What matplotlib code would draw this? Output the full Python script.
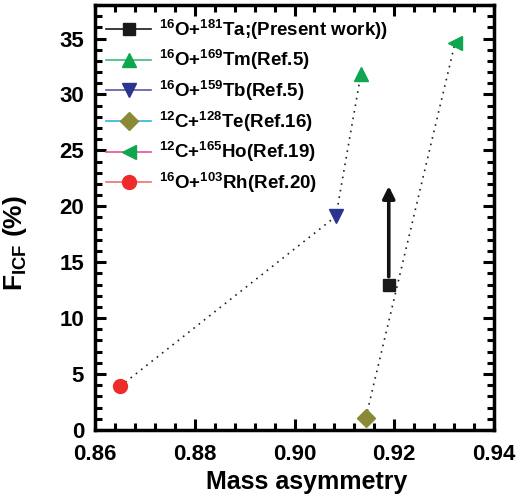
import matplotlib
matplotlib.use("Agg")
import matplotlib.pyplot as plt
from matplotlib.ticker import MultipleLocator

plt.rcParams['font.family'] = ['Liberation Sans', 'DejaVu Sans']
plt.rcParams['font.weight'] = 'bold'
plt.rcParams['mathtext.default'] = 'regular'

# dados
labels = [r'$^{16}$O+$^{181}$Ta;(Present work))',
          r'$^{16}$O+$^{169}$Tm(Ref.5)',
          r'$^{16}$O+$^{159}$Tb(Ref.5)',
          r'$^{12}$C+$^{128}$Te(Ref.16)',
          r'$^{12}$C+$^{165}$Ho(Ref.19)',
          r'$^{16}$O+$^{103}$Rh(Ref.20)']
mass_asym = [0.9189, 0.9133, 0.9083, 0.9143, 0.9322, 0.8650]
f_icf = [13.0, 31.8, 19.1, 1.1, 34.6, 3.9]
markers = ['s', '^', 'v', 'D', '<', 'o']
marker_colors = ['#1a1a1a', '#0fa650', '#2b3590', '#8a8a36', '#0fa650', '#ee2a2a']
line_colors = ['#1a1a1a', '#3cc07a', '#5a5aa8', '#30b0e0', '#e8509c', '#f07070']
marker_sizes = [8, 10, 10, 9, 10, 10]

# ligações pontilhadas
chain1 = [5, 2, 1]   # Rh -> Tb -> Tm
chain2 = [3, 4]      # Te -> Ho

# seta a partir do ponto atual
arrow_start = 13.7
arrow_end = 21.8

fig = plt.figure(figsize=(5.26, 4.97), dpi=100)
ax = fig.add_axes([0.181, 0.135, 0.758, 0.855])

for ch in (chain1, chain2):
    ax.plot([mass_asym[i] for i in ch], [f_icf[i] for i in ch],
            linestyle=(0, (1, 3)), color='#222222', linewidth=1.2, zorder=1)

for i in range(len(labels)):
    ax.plot([mass_asym[i]], [f_icf[i]], marker=markers[i], linestyle='-',
            color=line_colors[i], markerfacecolor=marker_colors[i],
            markeredgecolor=marker_colors[i], markersize=marker_sizes[i],
            linewidth=1.2, label=labels[i], zorder=3)

ax.annotate('', xy=(mass_asym[0], arrow_end), xytext=(mass_asym[0], arrow_start),
            arrowprops=dict(arrowstyle='-|>', color='#111111', lw=2.6,
                            mutation_scale=18, shrinkA=0, shrinkB=0))

ax.set_xlim(0.86, 0.94)
ax.set_ylim(0, 38)
ax.xaxis.set_major_locator(MultipleLocator(0.02))
ax.xaxis.set_minor_locator(MultipleLocator(0.004))
ax.yaxis.set_major_locator(MultipleLocator(5))
ax.yaxis.set_minor_locator(MultipleLocator(1))
ax.set_xticks([0.86, 0.88, 0.90, 0.92, 0.94])
ax.set_xticklabels(['0.86', '0.88', '0.90', '0.92', '0.94'])

ax.tick_params(which='both', direction='in', top=True, right=True, width=2.2,
               labelsize=16)
ax.tick_params(axis='x', pad=10)
ax.tick_params(axis='y', pad=8)
ax.tick_params(which='major', length=8)
ax.tick_params(which='minor', length=5)
for sp in ax.spines.values():
    sp.set_linewidth(2.5)

ax.set_xlabel('Mass asymmetry', fontsize=18, fontweight='bold')
ax.xaxis.set_label_coords(0.53, -0.095)
ax.set_ylabel(r'F$_{ICF}$ (%)', fontsize=19, fontweight='bold')
ax.yaxis.set_label_coords(-0.165, 0.44)

leg = ax.legend(loc='upper left', frameon=False, fontsize=13.5, handlelength=2.4,
                labelspacing=0.35, borderaxespad=0.2, handletextpad=0.4,
                bbox_to_anchor=(0.0, 0.997))

fig.savefig('out.png', dpi=100)
